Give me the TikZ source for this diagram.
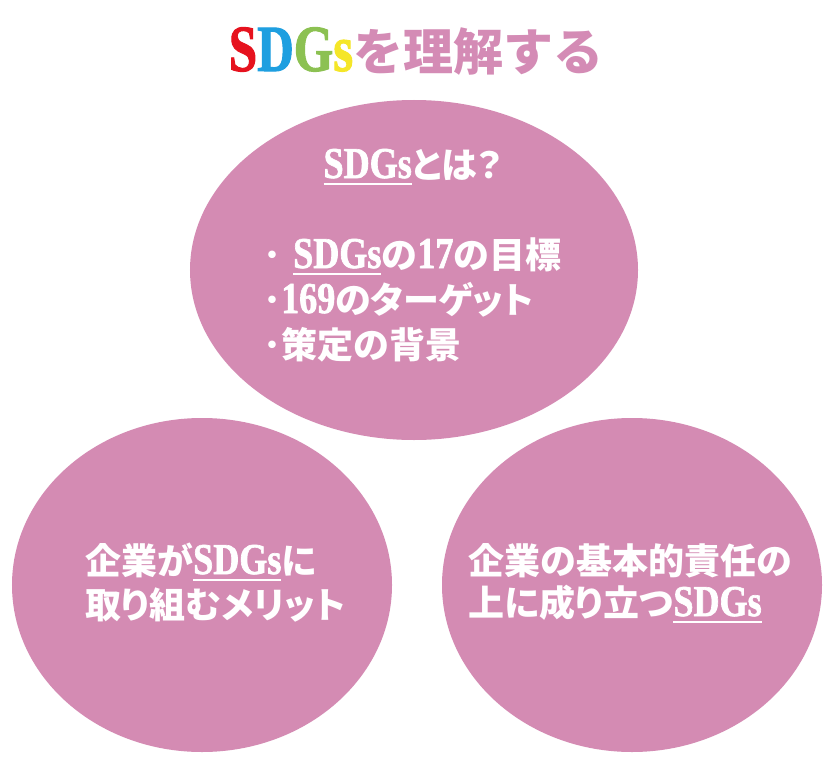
\documentclass[tikz,border=0pt]{standalone}
\usepackage{fontspec}
\usetikzlibrary{shapes.geometric}
\setmainfont{Liberation Serif}
\newfontfamily\jp{Noto Sans CJK JP}
\newfontfamily\jpp{Noto Sans CJK JP}[RawFeature=+palt]
\newfontfamily\latA{Liberation Serif Bold}[FakeStretch=0.82,FakeBold=1.5]
\newfontfamily\latT{Liberation Serif Bold}[FakeStretch=0.77,FakeBold=1.5]
\definecolor{blobpink}{HTML}{D48BB3}
\definecolor{titlepink}{HTML}{D48BB5}
\definecolor{sdgR}{HTML}{E6121E}
\definecolor{sdgB}{HTML}{1E9FE0}
\definecolor{sdgG}{HTML}{8CC152}
\definecolor{sdgY}{HTML}{F5E628}
\newcommand\J[1]{{\jp\bfseries\fontsize{36bp}{45bp}\selectfont #1}}
\newcommand\JP[1]{{\jpp\bfseries\fontsize{36bp}{45bp}\selectfont #1}}
\newcommand\LA[1]{{\latA\fontsize{44bp}{45bp}\selectfont #1}}
\newcommand\ulx[1]{\setbox0\hbox{#1}\rlap{\raisebox{-7bp}{\rule{\wd0}{1.8bp}}}\box0}
\tikzset{
  blob/.style={ellipse, fill=blobpink, draw=none, inner sep=0pt},
  txt/.style={text=white, inner sep=0pt, anchor=base west}
}
\begin{document}
\begin{tikzpicture}[x=1bp,y=-1bp]
\useasboundingbox (0,0) rectangle (832,775);
\fill[white] (0,0) rectangle (832,775);
% title
\node[inner sep=0pt, anchor=base] (title) at (416,71)
  {{\latT\fontsize{66bp}{70bp}\selectfont\color{sdgR}S\color{sdgB}D\color{sdgG}G\color{sdgY}s}{\jp\bfseries\fontsize{50bp}{60bp}\selectfont\color{titlepink}を理解する}};
% ellipses
\node[blob, minimum width=448bp, minimum height=340bp] (top) at (414,270) {};
\node[blob, minimum width=380bp, minimum height=334bp] (left) at (202,585) {};
\node[blob, minimum width=380bp, minimum height=334bp] (right) at (632,585) {};
% top texts
\node[txt, anchor=base] (t0) at (413,178) {\ulx{\LA{SDGs}}\JP{とは？}};
\node[txt] (t1) at (263,268) {\J{･}\hspace{12bp}\ulx{\LA{SDGs}}\J{の}\LA{17}\J{の目標}};
\node[txt] (t2) at (263,313) {\J{･}\LA{169}\JP{のターゲット}};
\node[txt] (t3) at (263,358) {\J{･策定の背景}};
% left texts
\node[txt] (l1) at (85,574) {\J{企業が}\ulx{\LA{SDGs}}\J{に}};
\node[txt] (l2) at (85,618) {\JP{取り組むメリット}};
% right texts
\node[txt] (r1) at (468,574) {\J{企業の基本的責任の}};
\node[txt] (r2) at (468,616) {\JP{上に成り立つ}\ulx{\LA{SDGs}}};
\end{tikzpicture}
\end{document}
